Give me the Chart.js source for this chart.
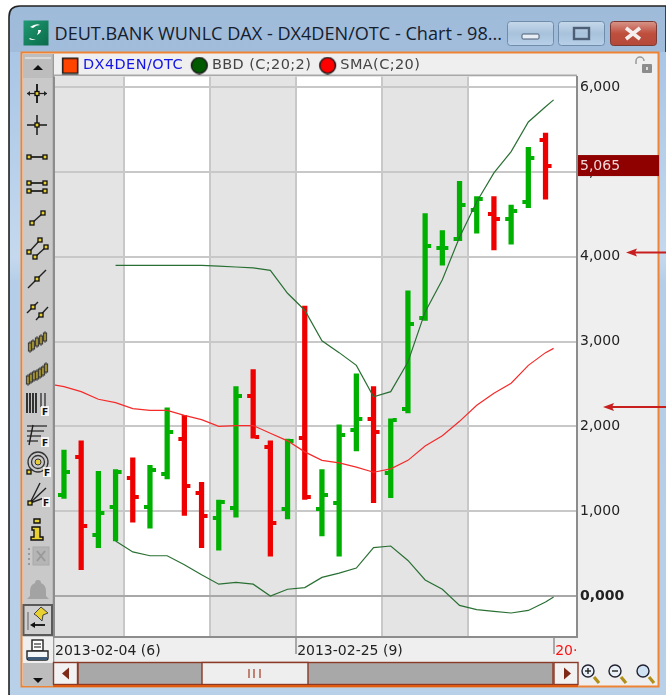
<!DOCTYPE html>
<html><head><meta charset="utf-8">
<style>
html,body{margin:0;padding:0;background:#fff;width:666px;height:695px;overflow:hidden}
#chrome,#c{position:absolute;left:0;top:0}
</style>
<script src="https://cdn.jsdelivr.net/npm/chart.js@4"></script>
</head><body>
<svg id="chrome" width="666" height="695" xmlns="http://www.w3.org/2000/svg"></svg>
<canvas id="c" width="666" height="695"></canvas>
<script>
const dates=["2013-02-05","2013-02-06","2013-02-07","2013-02-08","2013-02-11","2013-02-12","2013-02-13","2013-02-14","2013-02-15","2013-02-18","2013-02-19","2013-02-20","2013-02-21","2013-02-22","2013-02-25","2013-02-26","2013-02-27","2013-02-28","2013-03-01","2013-03-04","2013-03-05","2013-03-06","2013-03-07","2013-03-08","2013-03-11","2013-03-12","2013-03-13","2013-03-14","2013-03-15"];
const openV=[1.19,1.64,0.72,1.05,1.39,1.05,1.44,1.85,1.21,0.92,1.04,2.36,1.76,1.03,1.86,1.03,1.10,1.96,2.09,1.45,2.21,3.28,4.10,4.21,4.55,4.50,4.45,4.65,5.38];
const highV=[1.72,1.83,1.47,1.49,1.63,1.54,2.22,2.13,1.34,1.13,2.47,2.67,1.83,1.85,3.42,1.49,2.02,2.62,2.47,2.09,3.60,4.51,4.31,4.89,4.71,4.71,4.61,5.29,5.46];
const lowV=[1.15,0.31,0.57,0.65,0.87,0.80,1.38,0.95,0.57,0.54,0.93,1.86,0.47,0.91,1.14,0.71,0.47,1.71,1.10,1.16,2.16,3.25,3.90,4.19,4.28,4.08,4.15,4.58,4.68];
const closeV=[1.46,0.83,0.98,1.46,1.17,1.49,1.94,1.30,0.94,1.11,2.36,1.88,0.86,1.83,1.17,1.19,1.90,2.09,1.94,2.07,3.21,4.13,4.10,4.61,4.68,4.45,4.54,5.17,5.07];
const trendX=[-0.58,0,1,2,3,4,5,6,7,8,9,10,11,12,13,14,15,16,17,18,19,20,21,22,23,24,25,26,27,28,28.47];
const smaV=[2.49,2.47,2.41,2.32,2.28,2.21,2.19,2.19,2.13,2.08,2.00,2.01,2.01,1.92,1.83,1.70,1.60,1.57,1.52,1.46,1.50,1.60,1.77,1.89,2.06,2.25,2.39,2.51,2.72,2.87,2.92];
const bbdUpperV=[null,null,null,null,3.90,3.90,3.90,3.90,3.90,3.90,3.89,3.88,3.87,3.84,3.57,3.37,3.01,2.87,2.72,2.35,2.41,2.76,3.35,3.73,4.23,4.65,4.99,5.24,5.59,5.77,5.85];
const bbdLowerV=[null,null,null,null,0.65,0.52,0.475,0.475,0.37,0.25,0.14,0.16,0.14,0.00,0.08,0.10,0.22,0.27,0.33,0.57,0.59,0.42,0.19,0.08,-0.11,-0.16,-0.18,-0.20,-0.17,-0.07,-0.01];
const yTicks=[0,1,2,3,4,5,6];
const weekStarts=[3.5,8.5,13.5,18.5,23.5];
const xLabels={"-0.58":"2013-02-04 (6)","13.5":"2013-02-25 (9)","28.5":"20·"};
const legendNames=["DX4DEN/OTC","BBD (C;20;2)","SMA(C;20)"];
const titleText="DEUT.BANK WUNLC DAX - DX4DEN/OTC - Chart - 98...";
const priceText="5,065";

const GREEN="#00b000",RED="#ee0000",FONT="'DejaVu Sans'";
/* ---------- window chrome ---------- */
const hd=(x,y)=>`<rect x="${x-2}" y="${y-2}" width="4" height="4" fill="#e8d030" stroke="#111" stroke-width="1.3"/>`;
const ln=(a,b,c,d,w=1.4,s="#222")=>`<line x1="${a}" y1="${b}" x2="${c}" y2="${d}" stroke="${s}" stroke-width="${w}"/>`;
const F=(x,y)=>`<rect x="${x-1}" y="${y-6}" width="8" height="10" fill="#fff" opacity=".8"/><text x="${x}" y="${y+3}" font-family="${FONT}" font-size="9" font-weight="bold" fill="#111">F</text>`;
const candle=(x,y)=>`<rect x="${x-1.6}" y="${y-4}" width="3.2" height="8" fill="#e4cc3a" stroke="#333" stroke-width="1"/>`+ln(x,y-6,x,y+6,.8,"#333");
let s=`<defs>
<linearGradient id="tb" x1="0" y1="0" x2="0" y2="1"><stop offset="0" stop-color="#9fbbda"/><stop offset="1" stop-color="#bfd4ea"/></linearGradient>
<linearGradient id="side" x1="0" y1="0" x2="0" y2="1"><stop offset="0" stop-color="#a9c6e6"/><stop offset=".32" stop-color="#c4d9ee"/><stop offset=".36" stop-color="#b4cde8"/><stop offset="1" stop-color="#b9d0e9"/></linearGradient>
<linearGradient id="wb" x1="0" y1="0" x2="0" y2="1"><stop offset="0" stop-color="#c6d8ea"/><stop offset=".5" stop-color="#a8c2dc"/><stop offset="1" stop-color="#b8d0e8"/></linearGradient>
<linearGradient id="cb" x1="0" y1="0" x2="0" y2="1"><stop offset="0" stop-color="#d8958a"/><stop offset=".5" stop-color="#bf4f3d"/><stop offset="1" stop-color="#b4493a"/></linearGradient>
<linearGradient id="ic" x1="0" y1="0" x2="1" y2="1"><stop offset="0" stop-color="#1f9a72"/><stop offset="1" stop-color="#0b6b4a"/></linearGradient>
</defs>`;
s+=`<path d="M9 695V17Q9 6 20 6H666V695Z" fill="url(#tb)" stroke="#222" stroke-width="1.6"/>`;
s+=`<rect x="10" y="52" width="12" height="643" fill="url(#side)"/><rect x="659" y="52" width="7" height="643" fill="url(#side)"/><rect x="10" y="687" width="656" height="8" fill="#b9d0e9"/>`;
s+=`<rect x="23.5" y="20.5" width="25" height="25" fill="url(#ic)"/><path d="M30 27q6-4 10-2-4 0-7 3zM41 30q0 3-4 5 2-3 1-5zM30 38q3 2 6 1-3 2-7 0z" fill="#fff"/>`;
s+=`<text x="54.5" y="39.5" font-family="'Open Sans'" font-size="18.1" fill="#14202e">${titleText}</text>`;
[[507.5,46],[558.5,46]].forEach(([x,w])=>{s+=`<rect x="${x}" y="21.5" width="${w}" height="24" rx="3" fill="url(#wb)" stroke="#6f8cab"/>`;});
s+=`<rect x="522" y="34" width="17" height="5" rx="1" fill="#e8eef5" stroke="#4c5f75"/><rect x="574" y="28" width="15" height="11" fill="none" stroke="#4c5f75" stroke-width="2.4"/>`;
s+=`<rect x="610.5" y="21.5" width="46" height="24" rx="3" fill="url(#cb)" stroke="#7c3a34"/><path d="M626 28l14 11M640 28l-14 11" stroke="#f4eeee" stroke-width="3.6"/>`;
/* panels */
s+=`<rect x="21.5" y="52.5" width="637" height="634" fill="#efefef" stroke="#ee8433" stroke-width="2"/>`;
s+=`<rect x="23" y="54" width="31" height="632" fill="#c9c9c9"/><rect x="23" y="54" width="30" height="24" fill="#bdbdbd"/>`+ln(25,58,51,58,1.2,"#efefef")+`<path d="M33 70l5-5 5 5z" fill="#111"/>`;
s+=ln(53.5,54,53.5,686,1.6,"#9a9a9a");
/* toolbar icons */
s+=ln(37,84,37,103,2)+ln(27,93.5,47,93.5,1.2)+hd(37,93.5)+`<path d="M27 93.5l3-2.5v5zM47 93.5l-3-2.5v5z" fill="#222"/>`;
s+=ln(37,115,37,135,1.6)+ln(27,125,47,125,1.6)+hd(37,125);
s+=ln(29,157,45,157,1.8)+hd(29,157)+hd(45,157);
s+=ln(29,183,45,183,1.8)+hd(29,183)+hd(45,183)+ln(29,191,45,191,1.8)+hd(29,191)+hd(45,191);
s+=ln(32,223,43,213,1.4)+hd(32,223)+hd(43,213);
s+=ln(29,252,40,240)+hd(29,252)+hd(40,240)+ln(35,257,46,247)+hd(35,257)+hd(46,247);
s+=ln(28,288,46,270)+hd(37,279);
s+=ln(27,313,38,302)+hd(33,307)+ln(36,320,48,307)+hd(41,315);
[[30,347],[33,345],[37,342],[41,340],[45,337]].forEach(p=>s+=candle(...p));
[[28,380],[31,378],[34,376],[37,375],[40,373],[43,371],[46,368]].forEach(p=>s+=candle(...p));
[27,30,33,36].forEach(x=>s+=ln(x,393,x,413,1.8,"#222"));[41,45].forEach(x=>s+=ln(x,393,x,407,1.2,"#222"));s+=F(42,412);
[426,431,436,441].forEach((y,i)=>s+=ln(27,y,47-i*3,y,1.2,"#222"));s+=ln(33,425,29,445,1.4)+F(42,443);
s+=`<circle cx="38" cy="462" r="10" fill="none" stroke="#333" stroke-width="1.3"/><circle cx="38" cy="462" r="6.5" fill="none" stroke="#333" stroke-width="1.3"/><circle cx="38" cy="462" r="3" fill="#e4cc3a" stroke="#333"/>`+hd(29,472)+F(44,473);
s+=ln(30,503,40,483)+ln(30,503,46,488)+ln(30,503,44,498)+hd(30,503)+F(43,503);
s+=`<path d="M34 519h6v4h-6zM32 527h8v10h3v3H31v-3h3v-7h-2z" fill="#e8d030" stroke="#111" stroke-width="1.4"/>`;
s+=`<rect x="33" y="547" width="16" height="18" fill="#b5b5b5" stroke="#aaa"/><path d="M37 551l8 10M45 551l-8 10" stroke="#999" stroke-width="2"/><path d="M29 548v17" stroke="#999" stroke-dasharray="2 3" stroke-width="2"/>`;
s+=`<path d="M38 580q3 0 3 3 5 2 5 8v5l3 3H27l3-3v-5q0-6 5-8 0-3 3-3z" fill="#a3a3a3"/>`;
s+=`<rect x="23.5" y="605" width="28.5" height="30" fill="#cfcfcf" stroke="#5a5a5a" stroke-width="2"/><path d="M34 614l7-7 7 6-5 2-1 6-5-5z" fill="#e8d030" stroke="#444"/>`+ln(34,625,45,625,2)+`<path d="M30 625l5-3v6z" fill="#111"/>`+ln(28,612,28,630,1.6,"#888");
s+=`<rect x="23" y="637" width="30" height="26" fill="#efefef"/><rect x="32" y="640" width="11" height="11" fill="#fff" stroke="#222" stroke-width="1.4"/>`+ln(34,644,41,644,1.1)+ln(34,647,41,647,1.1)+`<path d="M27 651h21v7a2 2 0 0 1-2 2H29a2 2 0 0 1-2-2z" fill="#f3f6f8" stroke="#222" stroke-width="1.4"/><rect x="28" y="657" width="19" height="3" fill="#3d5a78"/>`;
s+=`<rect x="23" y="663" width="30" height="23" fill="#bdbdbd"/><path d="M33 678l5 5 5-5z" fill="#111"/>`;
/* lock */
s+=`<path d="M636 64v-3a4 4 0 0 1 8 0" fill="none" stroke="#999" stroke-width="1.5"/><rect x="642" y="64" width="10" height="9" rx="1" fill="#8c8c8c"/><rect x="646" y="67" width="2" height="3" fill="#ddd"/>`;
/* arrows */
s+=`<path d="M666 252.5H635" stroke="#c81e1e" stroke-width="2"/><path d="M626 252.5l11-4-2 4 2 4z" fill="#c81e1e"/><path d="M666 407H612" stroke="#c81e1e" stroke-width="2"/><path d="M603 407l11-4-2 4 2 4z" fill="#c81e1e"/>`;
/* scrollbar */
const DR="#8a3a26";
s+=`<rect x="78" y="662.5" width="475" height="22" fill="#a8a8a8" stroke="${DR}" stroke-width="1.4"/>`;
s+=`<rect x="53.5" y="662.5" width="24" height="22" fill="#f2f2f2" stroke="${DR}" stroke-width="1.4"/><path d="M62 673.5l7-6v12z" fill="#7f2a16"/>`;
s+=`<rect x="554" y="662.5" width="24" height="22" fill="#f2f2f2" stroke="${DR}" stroke-width="1.4"/><path d="M571 673.5l-7-6v12z" fill="#7f2a16"/>`;
s+=`<rect x="202" y="662.5" width="106" height="22" fill="#eeeeee" stroke="${DR}" stroke-width="1.4"/>`+ln(249,669,249,678,1.2,"#a03a20")+ln(254,669,254,678,1.2,"#a03a20")+ln(260,669,260,678,1.2,"#a03a20");
s+=ln(53,686,578,686,2,"#e05a10");
/* zoom icons */
[[588,"+"],[615,"-"],[643,""]].forEach(([x,t])=>{
 s+=ln(x+6,677,x+11,683,3.2,"#b09018")+`<circle cx="${x}" cy="671" r="6" fill="${t?'#e9f0f6':'#cfe2f4'}" stroke="#223" stroke-width="1.4"/>`;
 if(t)s+=ln(x-3,671,x+3,671,1.4);if(t==="+")s+=ln(x,668,x,674,1.4);
});
document.getElementById("chrome").innerHTML=s;

/* ---------- tick glyphs as point styles ---------- */
function glyph(color,side){
  const g=document.createElement("canvas");g.width=14;g.height=4;
  const x=g.getContext("2d");x.fillStyle=color;x.fillRect(side<0?1:9,0,4,4);return g;
}
const up=i=>closeV[i]>=openV[i];
const G={gl:glyph(GREEN,-1),gr:glyph(GREEN,1),rl:glyph(RED,-1),rr:glyph(RED,1)};
function legendIcon(fill,round){
  const g=document.createElement("canvas");g.width=26;g.height=18;
  const x=g.getContext("2d");x.fillStyle=fill;x.strokeStyle="#1a1a1a";x.lineWidth=1.5;
  x.beginPath();
  if(round)x.arc(11.5,9,7.9,0,Math.PI*2);else x.rect(3.8,1.8,15,15);
  x.fill();x.stroke();return g;
}
const LI=[legendIcon("#ff4400",false),legendIcon("#005a00",true),legendIcon("#ff0000",true)];

const paint={id:"paint",
 beforeDraw(ch){
  const {ctx,chartArea:a,scales:{x}}=ch;
  ctx.save();
  ctx.fillStyle="#efefef";ctx.fillRect(54,54,523,a.top-54);
  ctx.fillStyle="#a8a8a8";ctx.fillRect(54,a.top-2,523,2);
  ctx.fillStyle="#ffffff";ctx.fillRect(a.left,a.top,a.width,a.height);
  ctx.fillStyle="#e4e4e4";
  const b=[x.min,...weekStarts,x.max];
  for(let i=0;i+1<b.length;i+=2){
    const l=x.getPixelForValue(b[i]),r=x.getPixelForValue(b[i+1]);
    ctx.fillRect(l,a.top,r-l,a.height);
  }
  ctx.restore();
  if(!ch.legend.__w){
    const d=ch.legend.draw;ch.legend.__w=1;
    ch.legend.draw=function(){ctx.letterSpacing="0.4px";d.apply(this,arguments);ctx.letterSpacing="0px";};
  }
 },
 afterDraw(ch){
  const {ctx,chartArea:a,scales:{y}}=ch;
  ctx.save();ctx.fillStyle="#8c8c8c";ctx.fillRect(a.left-1,a.top,2,a.height);
  /* last-price box on the value axis */
  const py=y.getPixelForValue(closeV[closeV.length-1]);
  ctx.fillStyle="#8f0000";ctx.fillRect(a.right+1,py-11,81,21);
  ctx.fillStyle="#f0d8d8";ctx.font="14px "+FONT;ctx.textBaseline="middle";ctx.textAlign="left";
  ctx.fillText(priceText,a.right+3,py);
  ctx.restore();
 }};

const pts=a=>a.map((v,i)=>({x:trendX[i],y:v}));
new Chart(document.getElementById("c"),{
 type:"bar",
 plugins:[paint],
 data:{datasets:[
  {type:"line",label:legendNames[1],data:pts(bbdUpperV),borderColor:"#2a7034",borderWidth:1.2,pointRadius:0,tension:0,order:0},
  {type:"line",label:legendNames[1],data:pts(bbdLowerV),borderColor:"#2a7034",borderWidth:1.2,pointRadius:0,tension:0,order:0},
  {type:"line",label:legendNames[2],data:pts(smaV),borderColor:"#f52a2a",borderWidth:1.2,pointRadius:0,tension:0,order:0},
  {type:"scatter",label:"open",data:openV.map((v,i)=>({x:i,y:v})),order:1,pointRadius:4,
    pointStyle:c=>up(c.dataIndex)?G.gl:G.rl},
  {type:"scatter",label:"close",data:closeV.map((v,i)=>({x:i,y:v})),order:1,pointRadius:4,
    pointStyle:c=>up(c.dataIndex)?G.gr:G.rr},
  {type:"bar",label:legendNames[0],data:dates.map((d,i)=>({x:i,y:[lowV[i],highV[i]]})),
    backgroundColor:dates.map((d,i)=>up(i)?GREEN:RED),barThickness:4.6,order:2}
 ]},
 options:{
  responsive:false,animation:false,
  layout:{padding:{left:54,top:44.25,right:8,bottom:33}},
  plugins:{
   tooltip:{enabled:false},
   legend:{display:true,position:"top",align:"start",maxHeight:32.25,
    onClick:null,
    labels:{usePointStyle:true,pointStyleWidth:7.75,boxHeight:13,padding:14,
     font:{family:FONT,size:14.5},
     generateLabels:()=>[
      {text:legendNames[0],pointStyle:LI[0],fontColor:"#1414e6"},
      {text:legendNames[1],pointStyle:LI[1],fontColor:"#444"},
      {text:legendNames[2],pointStyle:LI[2],fontColor:"#444"}
     ]}}
  },
  scales:{
   x:{type:"linear",offset:false,min:-0.58,max:29.83,
    afterBuildTicks(ax){ax.ticks=[-0.58,...weekStarts,28.5].map(v=>({value:v}));},
    afterFit(ax){ax.height=25;},
    grid:{offset:false,lineWidth:2,tickLength:17,drawOnChartArea:true,
      color:c=>(c.tick&&(c.tick.value>=28||c.tick.value<0))?"rgba(0,0,0,0)":"#c8c8c8",
      tickColor:c=>(c.tick&&xLabels[String(c.tick.value)]&&c.tick.value>0)?"#a8a8a8":"rgba(0,0,0,0)"},
    border:{display:true,color:"#8c8c8c",width:2},
    ticks:{autoSkip:false,maxRotation:0,minRotation:0,align:"start",padding:-11,labelOffset:1,
      font:{family:FONT,size:14},
      color:c=>c.tick&&c.tick.value===28.5?"#ff1010":"#222",
      callback:v=>xLabels[String(v)]||""}
   },
   y:{type:"linear",position:"right",min:-0.483,max:6.126,
    afterBuildTicks(ax){ax.ticks=yTicks.map(v=>({value:v}));},
    afterFit(ax){ax.width=81;},
    grid:{lineWidth:2,drawTicks:false,color:c=>c.tick&&c.tick.value===0?"#a8a8a8":"#c8c8c8"},
    border:{display:true,color:"#8c8c8c",width:2},
    ticks:{padding:3,labelOffset:0,font:c=>({family:FONT,size:14,weight:c.tick&&c.tick.value===0?"bold":"normal"}),color:"#222",
      callback:v=>v.toFixed(3).replace(".",",")}
   }
  }
 }
});
</script>
</body></html>
